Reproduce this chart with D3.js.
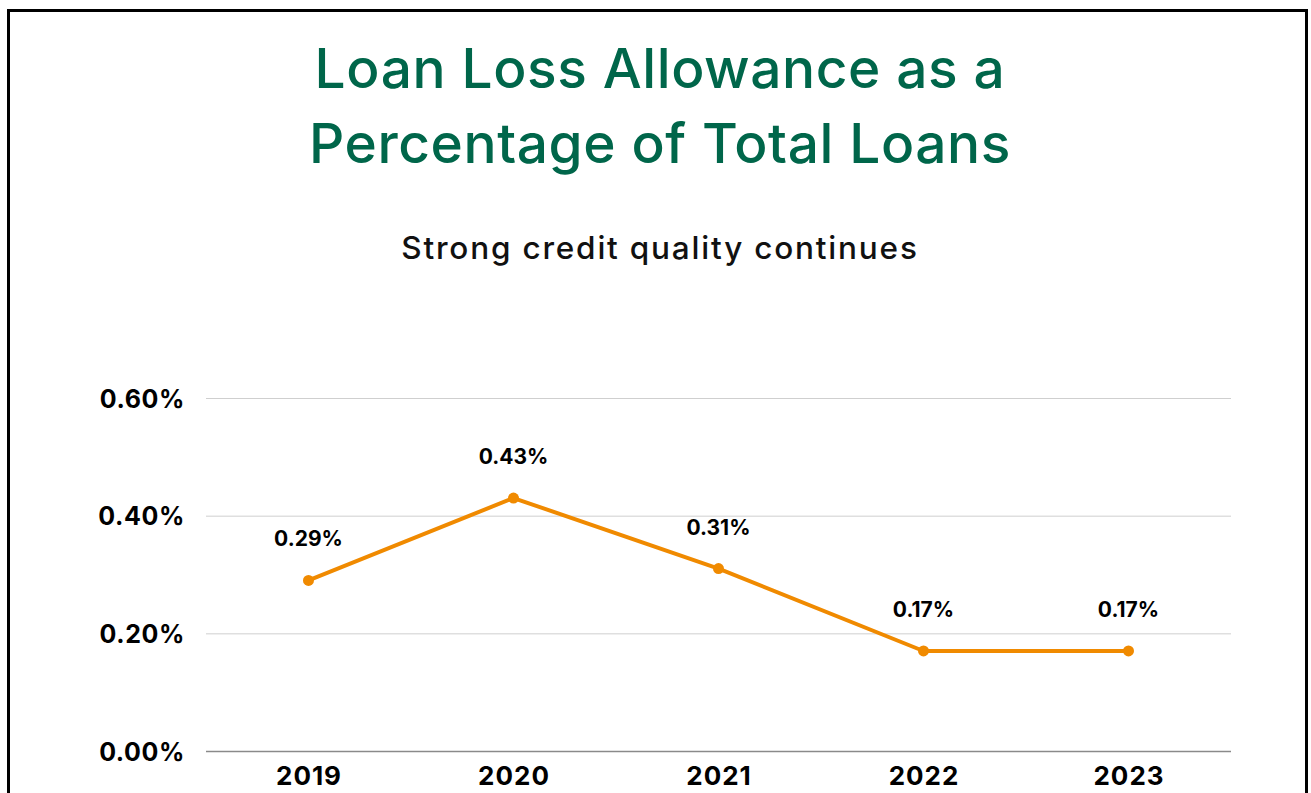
<!DOCTYPE html>
<html>
<head>
<meta charset="utf-8">
<script src="https://cdn.jsdelivr.net/npm/d3@7"></script>
<style>
  html, body { margin: 0; padding: 0; background: #fff; }
  svg { display: block; }
  text { font-family: Inter, "Open Sans", sans-serif; }
</style>
</head>
<body>
<svg id="chart" width="1311" height="793"></svg>
<script>
const years = ["2019", "2020", "2021", "2022", "2023"];
const allowancePct = [0.29, 0.43, 0.31, 0.17, 0.17];
const yTicks = [0, 0.2, 0.4, 0.6];
const titleLines = ["Loan Loss Allowance as a", "Percentage of Total Loans"];
const subtitle = "Strong credit quality continues";

const svg = d3.select("#chart");

// frame
svg.append("rect").attr("x", 8.5).attr("y", 10.5).attr("width", 1298).attr("height", 800)
  .attr("fill", "#fff").attr("stroke", "#000").attr("stroke-width", 3);

// title
const title = svg.append("text").attr("text-anchor", "middle").attr("fill", "#00664A")
  .style("font-size", "55px").style("font-weight", 500).style("letter-spacing", "0.6px");
titleLines.forEach((t, i) => {
  title.append("tspan").attr("x", 660).attr("y", 88 + i * 75).text(t);
});

svg.append("text").attr("x", 660).attr("y", 259).attr("text-anchor", "middle")
  .attr("fill", "#111").style("font-size", "31.5px").style("font-weight", 500)
  .style("letter-spacing", "1.8px").text(subtitle);

const plot = { left: 206, right: 1231, top: 398, bottom: 751 };
const x = d3.scalePoint().domain(years).range([plot.left, plot.right]).padding(0.5);
const y = d3.scaleLinear().domain([0, 0.6]).range([plot.bottom, plot.top]);

const yAxis = d3.axisLeft(y).tickValues(yTicks).tickSize(-(plot.right - plot.left))
  .tickFormat(d => d.toFixed(2) + "%").tickPadding(20);
const gy = svg.append("g").attr("transform", `translate(${plot.left},0)`).call(yAxis);
gy.select(".domain").remove();
gy.selectAll(".tick line").attr("stroke", d => d === 0 ? "#8a8a8a" : "#cfcfcf").attr("stroke-width", d => d === 0 ? 1.5 : 1);
gy.selectAll(".tick text").attr("fill", "#000").style("font-size", "25px").style("font-weight", 700)
  .style("letter-spacing", "0.6px").attr("dy", "0.36em").attr("x", -21);

const xAxis = d3.axisBottom(x).tickSize(0).tickPadding(16);
const gx = svg.append("g").attr("transform", `translate(0,${plot.bottom})`).call(xAxis);
gx.select(".domain").remove();
gx.selectAll(".tick text").attr("fill", "#000").style("font-size", "26px").style("font-weight", 700)
  .style("letter-spacing", "1px");

const data = years.map((yr, i) => ({ yr, v: allowancePct[i] }));
const line = d3.line().x(d => x(d.yr)).y(d => y(d.v));
svg.append("path").datum(data).attr("d", line).attr("fill", "none")
  .attr("stroke", "#F08A00").attr("stroke-width", 4).attr("stroke-linejoin", "round");
svg.selectAll("circle.pt").data(data).join("circle").attr("class", "pt")
  .attr("cx", d => x(d.yr)).attr("cy", d => y(d.v)).attr("r", 5.5).attr("fill", "#F08A00");
svg.selectAll("text.lbl").data(data).join("text").attr("class", "lbl")
  .attr("x", d => x(d.yr)).attr("y", d => y(d.v) - 34).attr("text-anchor", "middle")
  .attr("fill", "#000").style("font-size", "21px").style("font-weight", 700)
  .text(d => d.v.toFixed(2) + "%");
</script>
</body>
</html>
